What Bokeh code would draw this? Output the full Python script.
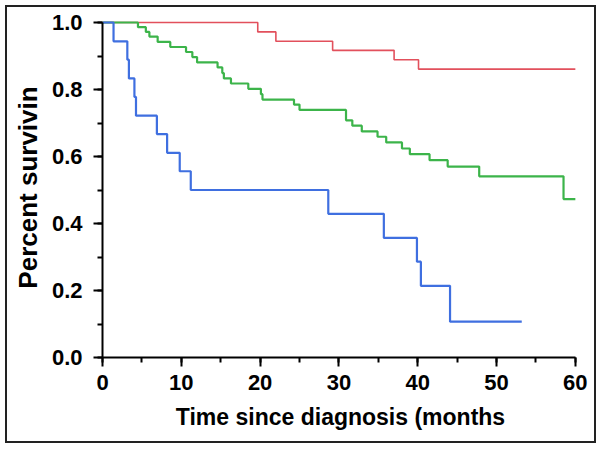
from bokeh.plotting import figure
from bokeh.models import Range1d, SingleIntervalTicker, PrintfTickFormatter
from bokeh.embed import file_html
from bokeh.resources import INLINE

# Red group
red_t = [0, 19.7, 22.0, 29.2, 37.0, 40.1, 60.0]
red_s = [1.0, 0.972, 0.944, 0.917, 0.889, 0.861, 0.861]

# Green group
green_t = [0, 4.5, 5.5, 5.95, 7.0, 8.6, 10.6, 11.4, 12.0, 14.6, 15.2, 15.4, 16.3,
           18.5, 20.1, 20.3, 24.3, 25.0, 30.9, 31.7, 32.9, 34.9, 36.0, 38.0, 39.0,
           41.5, 43.8, 47.8, 58.5, 60.0]
green_s = [1.0, 0.986, 0.972, 0.958, 0.942, 0.927, 0.912, 0.897, 0.881, 0.866, 0.849,
           0.833, 0.818, 0.802, 0.786, 0.770, 0.755, 0.739, 0.708, 0.692, 0.675,
           0.659, 0.642, 0.624, 0.607, 0.589, 0.570, 0.541, 0.473, 0.473]

# Blue group
blue_t = [0, 1.4, 3.15, 3.35, 4.05, 4.25, 6.9, 8.2, 9.8, 11.2, 28.65, 35.7, 39.9,
          40.4, 44.1, 53.2]
blue_s = [1.0, 0.944, 0.889, 0.833, 0.778, 0.722, 0.667, 0.611, 0.556, 0.5, 0.429,
          0.357, 0.286, 0.214, 0.107, 0.107]

FONT = "Liberation Sans"

p = figure(width=587, height=434, x_range=Range1d(0, 60.4), y_range=Range1d(0, 1.015),
           output_backend="svg", toolbar_location=None,
           min_border_left=95, min_border_right=20, min_border_top=10, min_border_bottom=88)
p.styles = {"border": "2px solid #222222", "box-sizing": "content-box",
            "margin-left": "5px", "margin-top": "5px"}
p.outline_line_color = None
p.grid.visible = False
p.background_fill_color = "white"
p.border_fill_color = "white"

p.step(red_t, red_s, mode="after", line_color="#e2505c", line_width=1.6)
p.step(green_t, green_s, mode="after", line_color="#3cb44a", line_width=2.2)
p.step(blue_t, blue_s, mode="after", line_color="#3f6fe0", line_width=2.2)

xa = p.xaxis[0]
xa.ticker = SingleIntervalTicker(interval=10, num_minor_ticks=2)
xa.bounds = (0, 60)
ya = p.yaxis[0]
ya.ticker = SingleIntervalTicker(interval=0.2, num_minor_ticks=2)
ya.bounds = (0, 1)
ya.formatter = PrintfTickFormatter(format="%.1f")

for ax in (xa, ya):
    ax.axis_line_width = 2
    ax.axis_line_color = "black"
    ax.major_tick_line_width = 2
    ax.minor_tick_line_width = 2
    ax.major_tick_line_color = "black"
    ax.minor_tick_line_color = "black"
    ax.major_tick_out = 9
    ax.major_tick_in = 0
    ax.minor_tick_out = 5
    ax.minor_tick_in = 0
    ax.major_label_text_font = FONT
    ax.major_label_text_font_style = "bold"
    ax.major_label_text_font_size = "22px"
    ax.major_label_text_color = "black"
    ax.axis_label_text_font = FONT
    ax.axis_label_text_font_style = "bold"
    ax.axis_label_text_color = "black"

xa.axis_label = "Time since diagnosis (months"
ya.axis_label = "Percent survivin"
xa.axis_label_text_font_size = "23px"
ya.axis_label_text_font_size = "26px"
xa.major_label_standoff = 8
ya.major_label_standoff = 11
xa.axis_label_standoff = 11
ya.axis_label_standoff = 6

open("out.html", "w").write(file_html(p, INLINE))
